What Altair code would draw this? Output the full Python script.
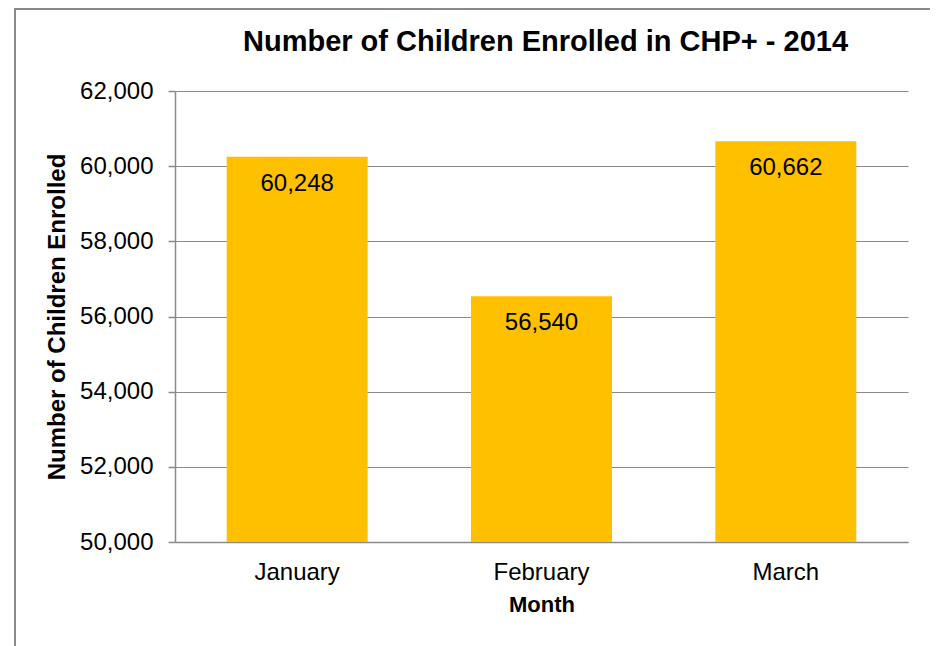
import altair as alt
import pandas as pd

months = ["January", "February", "March"]
enrolled = [60248, 56540, 60662]
y_ticks = [50000, 52000, 54000, 56000, 58000, 60000, 62000]
title_text = "Number of Children Enrolled in CHP+ - 2014"

df = pd.DataFrame({"Month": months, "Enrolled": enrolled})

FONT = "Liberation Sans"
GRAY = "#8a8a8a"

x = alt.X(
    "Month:N", sort=months, title="Month",
    scale=alt.Scale(paddingInner=0.423, paddingOuter=0.2115),
    axis=alt.Axis(labelAngle=0, ticks=False, tickSize=0, labelPadding=18, titlePadding=10,
                  labelFontSize=24, titleFontSize=22, labelFont=FONT, titleFont=FONT,
                  titleFontWeight="bold", domainColor=GRAY, domainWidth=1.5, grid=False,
                  labelColor="#000000", titleColor="#000000"),
)
y = alt.Y(
    "Enrolled:Q", title="Number of Children Enrolled",
    scale=alt.Scale(domain=[50000, 62000], zero=False, nice=False),
    axis=alt.Axis(values=y_ticks, format=",.0f", tickSize=7, labelPadding=15, titlePadding=10,
                  labelFontSize=24, titleFontSize=24, labelFont=FONT, titleFont=FONT,
                  titleFontWeight="bold", domainColor=GRAY, domainWidth=1.5,
                  tickColor=GRAY, tickWidth=1.5, gridColor=GRAY, gridWidth=1,
                  labelColor="#000000", titleColor="#000000"),
)

base = alt.Chart(df)
bars = base.mark_bar(color="#FFC000", clip=True).encode(x=x, y=y)
labels = base.mark_text(baseline="alphabetic", dy=34, fontSize=24, font=FONT,
                        color="#000000").encode(
    x=x, y=y, text=alt.Text("Enrolled:Q", format=","))

frame = alt.Chart(pd.DataFrame({"a": [0]})).mark_rect(
    fill="transparent", stroke=GRAY, strokeWidth=2
).encode(x=alt.value(-160), x2=alt.value(757), y=alt.value(-82), y2=alt.value(620))

chart = alt.layer(frame, bars, labels).properties(
    width=733, height=451,
    title=alt.TitleParams(title_text, fontSize=29, font=FONT, fontWeight="bold",
                          anchor="middle", offset=-49, dx=4, color="#000000"),
    autosize=alt.AutoSizeParams(type="none"),
    padding={"left": 167, "top": 83, "right": 22, "bottom": 104},
).configure_view(stroke=None)

chart.save("out.html", embed_options={"renderer": "svg", "actions": False})
